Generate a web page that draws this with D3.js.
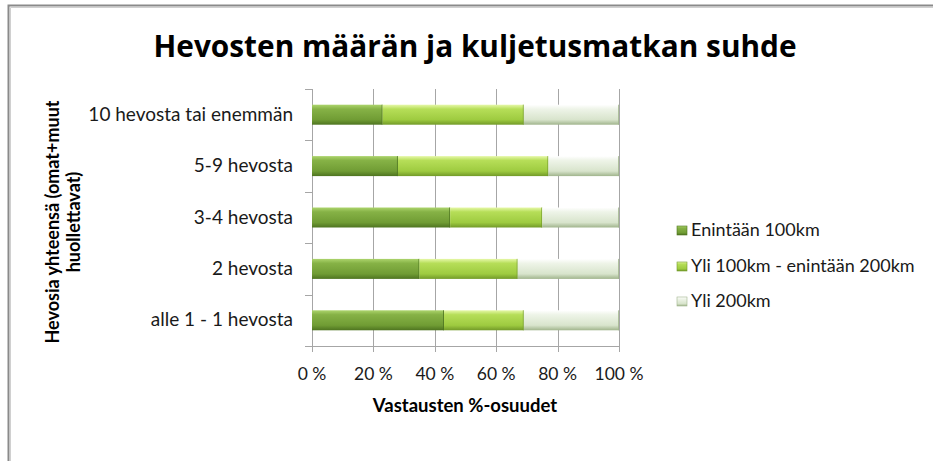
<!DOCTYPE html>
<html><head><meta charset="utf-8">
<script src="https://cdn.jsdelivr.net/npm/d3@7"></script>
<style>
html,body{margin:0;padding:0;background:#fff;}
svg{display:block;font-family:Lato,"Open Sans",sans-serif;}
</style></head>
<body><svg id="c" width="933" height="461"></svg>
<script>
const categories = ["10 hevosta tai enemmän","5-9 hevosta","3-4 hevosta","2 hevosta","alle 1 - 1 hevosta"];
const seriesNames = ["Enintään 100km","Yli 100km - enintään 200km","Yli 200km"];
const s1 = [23, 28, 45, 35, 43];
const s2 = [46, 49, 30, 32, 26];
const s3 = [31, 23, 25, 33, 31];
const xTicks = [0, 0.2, 0.4, 0.6, 0.8, 1.0];
const title = "Hevosten määrän ja kuljetusmatkan suhde";
const yTitle = ["Hevosia yhteensä (omat+muut", "huollettavat)"];
const xTitle = "Vastausten %-osuudet";

const svg = d3.select("#c");
const defs = svg.append("defs");
const grads = [
  ["#acd46c","#86b246","#709c34","#4e7420"],
  ["#e6f8a8","#b6de58","#9ecb40","#729a28"],
  ["#ffffff","#eef4e8","#d8e4cc","#a0b48c"]
];
grads.forEach((g,i)=>{
  const lg = defs.append("linearGradient").attr("id","g"+i).attr("x1",0).attr("y1",0).attr("x2",0).attr("y2",1);
  lg.append("stop").attr("offset","0%").attr("stop-color",g[0]);
  lg.append("stop").attr("offset","22%").attr("stop-color",g[1]);
  lg.append("stop").attr("offset","75%").attr("stop-color",g[2]);
  lg.append("stop").attr("offset","100%").attr("stop-color",g[3]);
});

// outer border
svg.append("path").attr("d","M8.5,461 V5.5 H933").attr("fill","none").attr("stroke","#8a8a8a").attr("stroke-width",2);
svg.append("path").attr("d","M10.5,461 V7.5 H933").attr("fill","none").attr("stroke","#d0d0d0").attr("stroke-width",1);

const m = {l:312, r:619, t:89, b:346};
const x = d3.scaleLinear().domain([0,1]).range([m.l, m.r]);
const y = d3.scaleBand().domain(categories).range([m.t, m.b]).paddingInner(0.611).paddingOuter(0.3055);

// gridlines
svg.append("g").selectAll("line").data(xTicks).join("line")
  .attr("x1",d=>Math.round(x(d))+0.5).attr("x2",d=>Math.round(x(d))+0.5)
  .attr("y1",m.t).attr("y2",m.b+6)
  .attr("stroke","#a6a6a6").attr("stroke-width",1);
// bottom axis line
svg.append("line").attr("x1",m.l-7).attr("x2",m.r).attr("y1",m.b+0.5).attr("y2",m.b+0.5).attr("stroke","#a6a6a6");
// y ticks at band boundaries
const step = y.step();
const bounds = d3.range(0,categories.length).map(i=>m.t + i*step);
svg.append("g").selectAll("line").data(bounds).join("line")
  .attr("x1",m.l-7).attr("x2",m.l).attr("y1",d=>Math.round(d)+0.5).attr("y2",d=>Math.round(d)+0.5)
  .attr("stroke","#a6a6a6");

// stacked data
const rows = categories.map((c,i)=>({cat:c, a:s1[i]/100, b:s2[i]/100, c:s3[i]/100}));
const stack = d3.stack().keys(["a","b","c"])(rows);
stack.forEach((layer,li)=>{
  const g = svg.append("g");
  g.selectAll("rect").data(layer).join("rect")
    .attr("x",d=>x(d[0])).attr("width",d=>x(d[1])-x(d[0]))
    .attr("y",d=>y(d.data.cat)).attr("height",y.bandwidth())
    .attr("fill","url(#g"+li+")");
  g.selectAll("line").data(layer).join("line")
    .attr("x1",d=>x(d[1])-0.5).attr("x2",d=>x(d[1])-0.5)
    .attr("y1",d=>y(d.data.cat)).attr("y2",d=>y(d.data.cat)+y.bandwidth())
    .attr("stroke",grads[li][3]).attr("stroke-opacity",0.8);
});

// category labels
svg.append("g").selectAll("text").data(categories).join("text")
  .attr("x",293).attr("y",d=>y(d)+y.bandwidth()/2+6)
  .attr("text-anchor","end").attr("font-size",19).attr("fill","#1a1a1a").text(d=>d);

// x tick labels
svg.append("g").selectAll("text").data(xTicks).join("text")
  .attr("x",d=>x(d)).attr("y",380).attr("text-anchor","middle")
  .attr("font-size",17.5).attr("fill","#1a1a1a").text(d=>Math.round(d*100)+" %");

// axis titles
svg.append("text").attr("x",465).attr("y",412).attr("text-anchor","middle")
  .attr("font-size",18.5).attr("font-weight","bold").attr("fill","#000").text(xTitle);
yTitle.forEach((t,i)=>{
  svg.append("text").attr("transform",`translate(${59+i*21},${222}) rotate(-90)`)
    .attr("text-anchor","middle").attr("font-size",18).attr("font-weight","bold").attr("fill","#000").text(t);
});

// title
svg.append("text").attr("x",475).attr("y",57).attr("text-anchor","middle")
  .attr("font-family","'Open Sans',sans-serif")
  .attr("font-size",29.8).attr("font-weight","bold").attr("fill","#000").text(title);

// legend
const leg = svg.append("g");
seriesNames.forEach((n,i)=>{
  const ly = [230,266,301][i];
  leg.append("rect").attr("x",677).attr("y",ly-4).attr("width",10).attr("height",9).attr("fill","url(#g"+i+")").attr("stroke",grads[i][3]).attr("stroke-width",0.6);
  leg.append("text").attr("x",691).attr("y",ly+6).attr("font-size",18).attr("fill","#1a1a1a").text(n);
});
</script></body></html>
